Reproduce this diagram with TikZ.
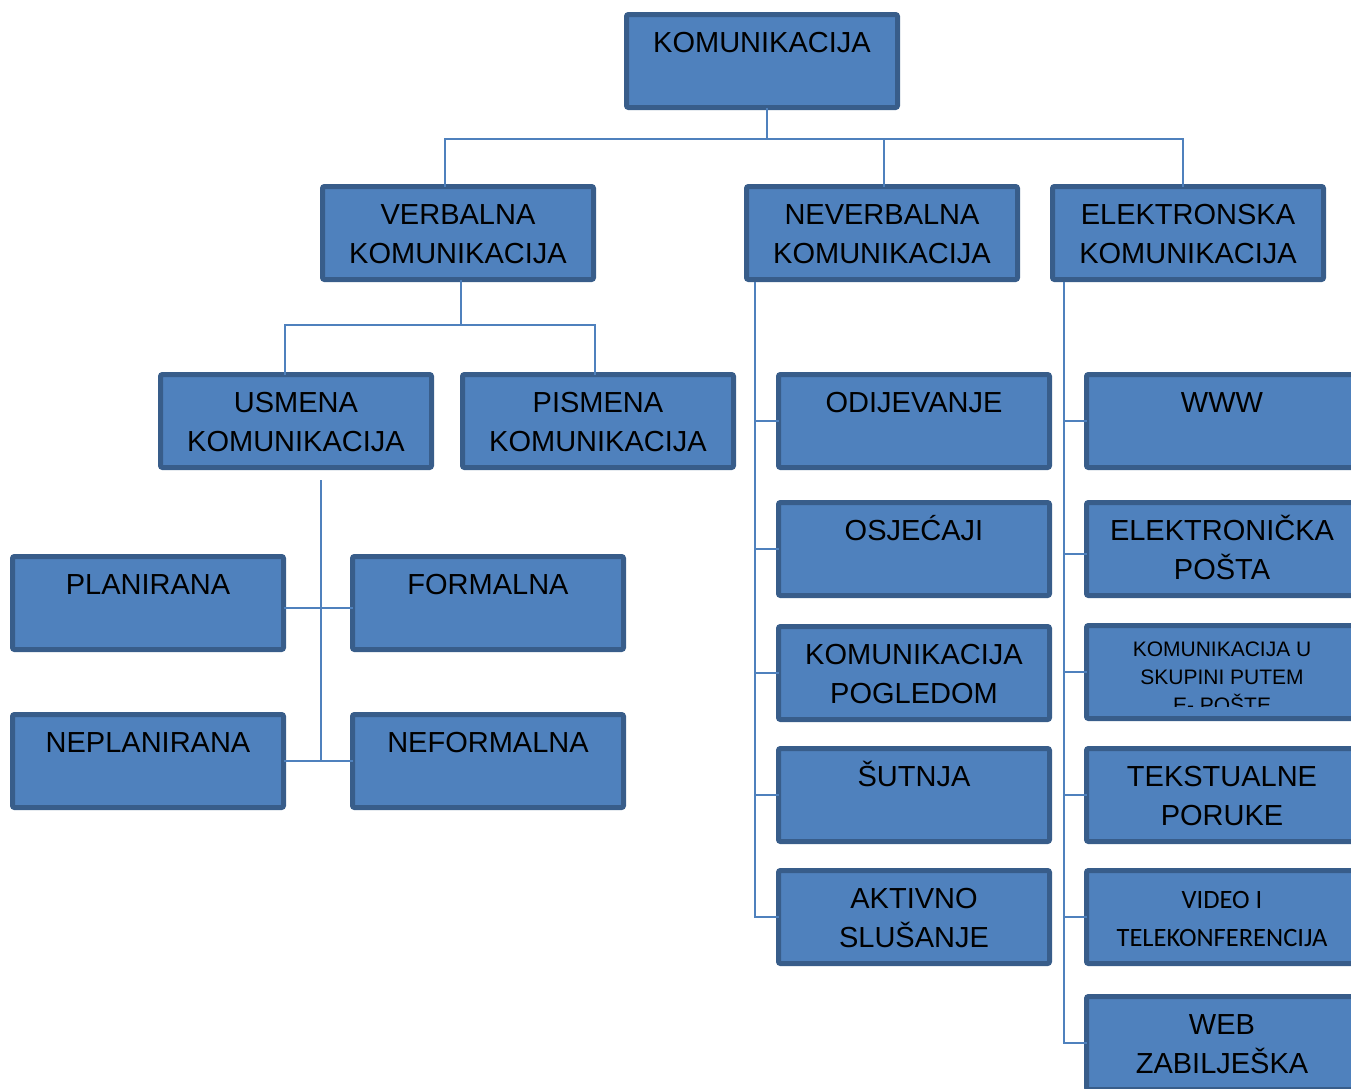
\documentclass[tikz,border=0pt]{standalone}
\usepackage{fontspec}
\setmainfont{Liberation Sans}
\newfontfamily\carlitofont{Carlito}
\definecolor{boxfill}{HTML}{4F81BD}
\definecolor{boxedge}{HTML}{385D8A}
\tikzset{
  kbox/.style={draw=boxedge, fill=boxfill, line width=5pt, rounded corners=2pt,
    inner sep=0pt, outer sep=0pt, minimum width=271pt, minimum height=93pt,
    font=\fontsize{29}{39}\selectfont,
    execute at begin node={\begin{minipage}[c][93pt][t]{266pt}\centering\vspace*{11pt}\strut},
    execute at end node={\end{minipage}}},
  kline/.style={draw=boxfill, line width=1.6pt}
}

\begin{document}
\begin{tikzpicture}[x=1pt, y=-1pt]
      \newcommand\LEFT{148}
      \newcommand\MID{488}
      \newcommand\NV{914}
      \newcommand\EL{1222}

      \path[use as bounding box] (0,0) rectangle (1351,1088);
      \clip (0,0) rectangle (1351,1088);

      \node[kbox] (kom) at (762, 61) {KOMUNIKACIJA};

      \node[kbox] (verb) at (458, 233) {VERBALNA\\KOMUNIKACIJA};
      \node[kbox] (neve) at (882, 233) {NEVERBALNA\\KOMUNIKACIJA};
      \node[kbox] (elek) at (1188, 233) {ELEKTRONSKA\\KOMUNIKACIJA};

      \node[kbox] (usm) at (296, 421) {USMENA\\KOMUNIKACIJA};
      \node[kbox] (pism) at (598, 421) {PISMENA\\KOMUNIKACIJA};

      \node[kbox] (plan) at (\LEFT, 603) {PLANIRANA};
      \node[kbox] (form) at (\MID, 603) {FORMALNA};
      \node[kbox] (neplan) at (\LEFT, 761) {NEPLANIRANA};
      \node[kbox] (neform) at (\MID, 761) {NEFORMALNA};

      \node[kbox] (odij) at (\NV, 421) {ODIJEVANJE};
      \node[kbox] (osje) at (\NV, 549) {OSJEĆAJI};
      \node[kbox] (pogl) at (\NV, 673) {KOMUNIKACIJA\\POGLEDOM};
      \node[kbox] (sutn) at (\NV, 795) {ŠUTNJA};
      \node[kbox] (akti) at (\NV, 917) {AKTIVNO\\SLUŠANJE};

      \node[kbox] (www) at (\EL, 421) {WWW};
      \node[kbox] (epos) at (\EL, 549) {ELEKTRONIČKA\\POŠTA};
      \node[kbox] (skup) at (\EL, 672) {};
      \node[kbox] (teks) at (\EL, 795) {TEKSTUALNE\\PORUKE};
      \node[kbox, font=\carlitofont\fontsize{26.5}{38}\selectfont] (vide) at (\EL, 917) {VIDEO I\\TELEKONFERENCIJA};
      \node[kbox] (webz) at (\EL, 1043) {WEB\\ZABILJEŠKA};

      \begin{scope}
        \clip (skup.north west) rectangle ([yshift=12pt]skup.south east);
        \node[anchor=north, align=center, inner sep=0pt, font=\fontsize{21}{28}\selectfont] (skuptxt) at ([yshift=-16pt]skup.north) {KOMUNIKACIJA U\\SKUPINI PUTEM\\E- POŠTE};
      \end{scope}

      \coordinate (bustop) at (0, 139);
      \draw[kline] ([xshift=5pt]kom.south) -- ([xshift=5pt]kom.south |- bustop);
      \draw[kline] ([xshift=-13pt]verb.north) |- ([xshift=-5pt]elek.north |- bustop) -- ([xshift=-5pt]elek.north);
      \draw[kline] ([xshift=2pt]neve.north) -- ([xshift=2pt]neve.north |- bustop);

      \coordinate (busverb) at (0, 325);
      \draw[kline] ([xshift=3pt]verb.south) -- ([xshift=3pt]verb.south |- busverb);
      \draw[kline] ([xshift=-11pt]usm.north) |- ([xshift=-3pt]pism.north |- busverb) -- ([xshift=-3pt]pism.north);

      \coordinate (usspine) at (321, 480);
      \draw[kline] (usspine) -- (usspine |- neplan.east);
      \draw[kline] ([yshift=-5pt]plan.east) -- ([yshift=-5pt]form.west);
      \draw[kline] (neplan.east) -- (neform.west);

      \coordinate (nvspine) at (755, 282);
      \draw[kline] (nvspine) |- (akti.west);
      \foreach \n in {odij, osje, pogl, sutn}
        \draw[kline] (\n.west) -- (\n.west -| nvspine);

      \coordinate (elspine) at (1064, 282);
      \draw[kline] (elspine) |- (webz.west);
      \draw[kline] ([yshift=-5pt]epos.west) -- ([yshift=-5pt]epos.west -| elspine);
      \foreach \n in {www, skup, teks, vide}
        \draw[kline] (\n.west) -- (\n.west -| elspine);

    \end{tikzpicture}
\end{document}
